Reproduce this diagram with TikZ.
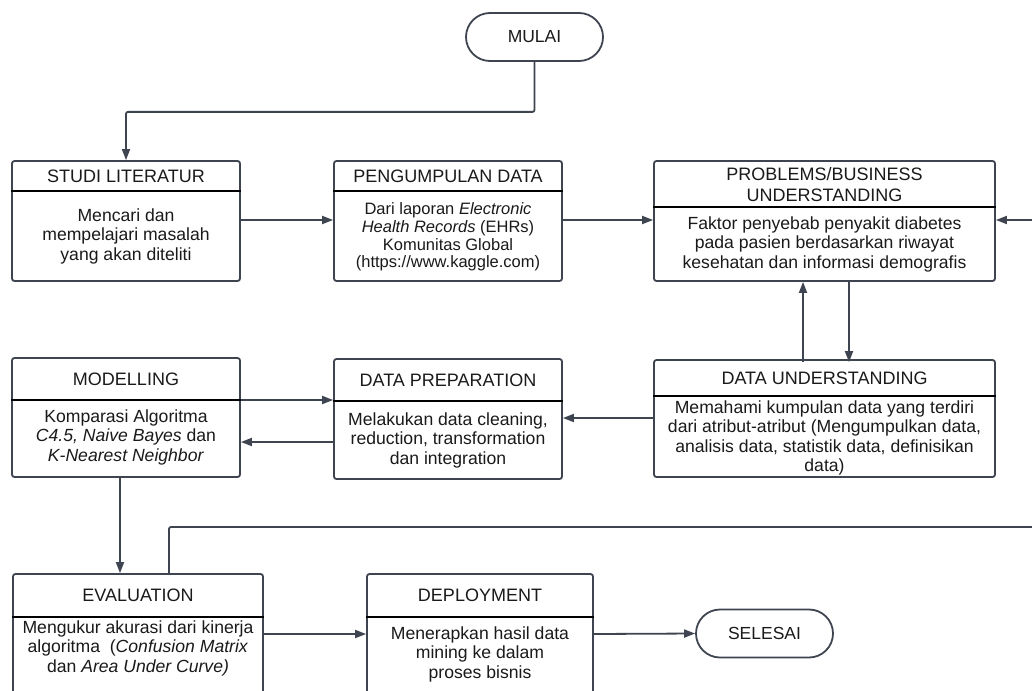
\documentclass[tikz,border=0pt]{standalone}
\usepackage{fontspec}
\setmainfont{Liberation Sans}
\usetikzlibrary{arrows.meta}

\definecolor{edge}{HTML}{3F4550}
\definecolor{ink}{HTML}{1A1A1A}

\tikzset{
  stage/.style={draw=edge, line width=1.8pt, rounded corners=2.5pt, inner sep=0pt},
  term/.style={draw=edge, line width=1.8pt, rounded corners=24pt, inner sep=0pt,
    minimum width=137pt, minimum height=48pt, text=ink,
    font=\fontsize{17.5}{19.5}\selectfont},
  split/.style={draw=black, line width=1.8pt},
  head/.style={text=ink, align=center, inner sep=0pt, font=\fontsize{18}{21}\selectfont},
  body/.style={text=ink, align=center, inner sep=0pt, font=\fontsize{17.6}{19.5}\selectfont},
  small/.style={text=ink, align=center, inner sep=0pt, font=\fontsize{16.5}{17.7}\selectfont},
  arr/.style={draw=edge, line width=1.8pt, -{Triangle[length=11pt,width=8pt]}},
  link/.style={draw=edge, line width=1.8pt, rounded corners=2pt}
}

\begin{document}
\begin{tikzpicture}[x=1pt, y=-1pt]
  \clip (0,0) rectangle (1032,690);
  \fill[white] (0,0) rectangle (1032,690);

  % terminators
  \node[term] (mulai) at (534.5,37) {MULAI};
  \node[term] (selesai) at (764.5,633.5) {SELESAI};

  % studi literatur
  \node[stage, minimum width=228pt, minimum height=120pt] (studi) at (126,221) {};
  \draw[split] (studi.west |- 0,191) -- (studi.east |- 0,191);
  \node[head] (studiH) at (126,176) {STUDI LITERATUR};
  \node[body] (studiB) at (126,236) {Mencari dan\\ mempelajari masalah\\ yang akan diteliti};

  % pengumpulan data
  \node[stage, minimum width=228pt, minimum height=120pt] (kumpul) at (448,221) {};
  \draw[split] (kumpul.west |- 0,191) -- (kumpul.east |- 0,191);
  \node[head] (kumpulH) at (448,176) {PENGUMPULAN DATA};
  \node[small] (kumpulB) at (448,237) {Dari laporan \textit{Electronic}\\ \textit{Health Records} (EHRs)\\ Komunitas Global\\ (https://www.kaggle.com)};

  % problems / business understanding
  \node[stage, minimum width=341pt, minimum height=120pt] (bisnis) at (824.5,221) {};
  \draw[split] (bisnis.west |- 0,207) -- (bisnis.east |- 0,207);
  \node[head] (bisnisH) at (824.5,185) {PROBLEMS/BUSINESS\\ UNDERSTANDING};
  \node[body] (bisnisB) at (824.5,244) {Faktor penyebab penyakit diabetes\\ pada pasien berdasarkan riwayat\\ kesehatan dan informasi demografis};

  % data understanding
  \node[stage, minimum width=341pt, minimum height=117pt] (paham) at (824.5,418.5) {};
  \draw[split] (paham.west |- 0,396) -- (paham.east |- 0,396);
  \node[head] (pahamH) at (824.5,378) {DATA UNDERSTANDING};
  \node[body] (pahamB) at (824.5,438) {Memahami kumpulan data yang terdiri\\ dari atribut-atribut (Mengumpulkan data,\\ analisis data, statistik data, definisikan\\ data)};

  % data preparation
  \node[stage, minimum width=228pt, minimum height=120pt] (siap) at (448,419) {};
  \draw[split] (siap.west |- 0,401) -- (siap.east |- 0,401);
  \node[head] (siapH) at (448,380) {DATA PREPARATION};
  \node[body] (siapB) at (448,440) {Melakukan data cleaning,\\ reduction, transformation\\ dan integration};

  % modelling
  \node[stage, minimum width=228pt, minimum height=119pt] (model) at (126,417.5) {};
  \draw[split] (model.west |- 0,400) -- (model.east |- 0,400);
  \node[head] (modelH) at (126,379) {MODELLING};
  \node[body] (modelB) at (126,437) {Komparasi Algoritma\\ \textit{C4.5, Naive Bayes} dan\\ \textit{K-Nearest Neighbor}};

  % evaluation
  \node[stage, minimum width=250pt, minimum height=130pt] (evalu) at (138,639) {};
  \draw[split] (evalu.west |- 0,617) -- (evalu.east |- 0,617);
  \node[head] (evaluH) at (138,595) {EVALUATION};
  \node[body] (evaluB) at (138,648) {Mengukur akurasi dari kinerja\\ algoritma\ \ (\textit{Confusion Matrix}\\ dan \textit{Area Under Curve)}};

  % deployment
  \node[stage, minimum width=226pt, minimum height=130pt] (pakai) at (480,639) {};
  \draw[split] (pakai.west |- 0,617) -- (pakai.east |- 0,617);
  \node[head] (pakaiH) at (480,595) {DEPLOYMENT};
  \node[body] (pakaiB) at (480,654) {Menerapkan hasil data\\ mining ke dalam\\ proses bisnis};

  % loose ends beyond the right edge
  \coordinate (luarA) at (1045,220);
  \coordinate (luarB) at (1045,527);

  % connectors
  \draw[arr, link] (mulai.south) -- ++(0,50) -| (studi.north);
  \draw[arr] (studi.east |- 0,220) -- (kumpul.west |- 0,220);
  \draw[arr] (kumpul.east |- 0,220) -- (bisnis.west |- 0,220);
  \draw[arr] (luarA) -- (bisnis.east |- luarA);
  \draw[arr] ([yshift=-3pt]paham.north -| 803,0) -- (bisnis.south -| 803,0);
  \draw[arr] (bisnis.south -| 849,0) -- ([yshift=-3pt]paham.north -| 849,0);
  \draw[arr] (paham.west |- 0,418) -- (siap.east |- 0,418);
  \draw[arr] (model.east |- 0,400) -- (siap.west |- 0,400);
  \draw[arr] (siap.west |- 0,442) -- (model.east |- 0,442);
  \draw[arr] (model.south -| 120,0) -- (evalu.north -| 120,0);
  \draw[link] (evalu.north -| 169,0) |- (luarB);
  \draw[arr] (evalu.east |- 0,634) -- (pakai.west |- 0,634);
  \draw[arr] (pakai.east |- 0,634) -- (selesai.west);
\end{tikzpicture}
\end{document}
